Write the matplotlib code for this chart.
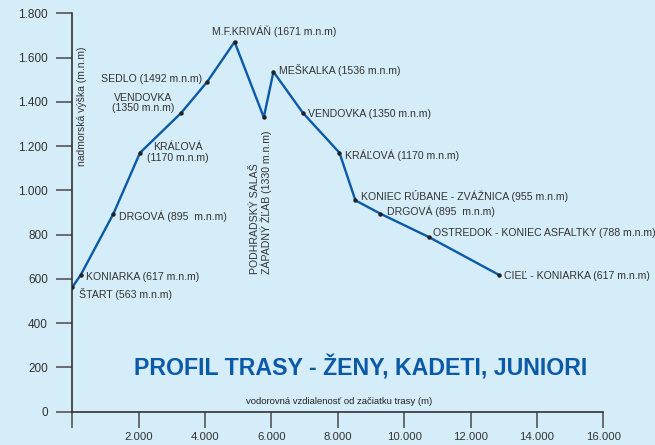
import matplotlib.pyplot as plt

plt.rcParams['font.family'] = ['Liberation Sans', 'DejaVu Sans']

# route profile: distance (m), altitude (m.n.m), label
dist = [0, 250, 1240, 2040, 3280, 4070, 4890, 5770, 6060, 6950, 8050, 8530, 9280, 10760, 12870]
alt = [563, 617, 895, 1170, 1350, 1492, 1671, 1330, 1536, 1350, 1170, 955, 895, 788, 617]
labels = [
    'ŠTART (563 m.n.m)',
    'KONIARKA (617 m.n.m)',
    'DRGOVÁ (895  m.n.m)',
    'KRÁĽOVÁ\n(1170 m.n.m)',
    'VENDOVKA\n(1350 m.n.m)',
    'SEDLO (1492 m.n.m)',
    'M.F.KRIVÁŇ (1671 m.n.m)',
    'PODHRADSKÝ SALAŠ\nZÁPADNÝ ŽĽAB (1330 m.n.m)',
    'MEŠKALKA (1536 m.n.m)',
    'VENDOVKA (1350 m.n.m)',
    'KRÁĽOVÁ (1170 m.n.m)',
    'KONIEC RÚBANE - ZVÁŽNICA (955 m.n.m)',
    'DRGOVÁ (895  m.n.m)',
    'OSTREDOK - KONIEC ASFALTKY (788 m.n.m)',
    'CIEĽ - KONIARKA (617 m.n.m)',
]
xticks = [0, 2000, 4000, 6000, 8000, 10000, 12000, 14000, 16000]
xticklabels = ['', '2.000', '4.000', '6.000', '8.000', '10.000', '12.000', '14.000', '16.000']
yticks = [0, 200, 400, 600, 800, 1000, 1200, 1400, 1600, 1800]
yticklabels = ['0', '200', '400', '600', '800', '1.000', '1.200', '1.400', '1.600', '1.800']

bg = '#d5ecf9'
blue = '#0b5aa8'

fig = plt.figure(figsize=(6.55, 4.45), dpi=100, facecolor=bg)
ax = fig.add_axes([0.1104, 0.0748, 0.8107, 0.8952])
ax.set_facecolor(bg)

ax.plot(dist, alt, color=blue, lw=1.7, zorder=2)
ax.plot(dist, alt, 'o', color='#222222', ms=2.2, zorder=3)

ax.set_xlim(0, 16000)
ax.set_ylim(0, 1800)
for s in ['top', 'right']:
    ax.spines[s].set_visible(False)
for s in ['left', 'bottom']:
    ax.spines[s].set_color('#333333')
    ax.spines[s].set_linewidth(1.2)

ax.set_xticks(xticks)
ax.set_xticklabels(xticklabels)
ax.set_yticks(yticks)
ax.set_yticklabels(yticklabels)
ax.tick_params(axis='both', direction='out', length=11.5, width=1.2, color='#555555',
               labelcolor='#333333')
ax.tick_params(axis='y', pad=6, labelsize=8.5)
ax.tick_params(axis='x', pad=3, labelsize=8.2)

# label offsets in pixels from each point: (dx, dy, ha, va)
offs = [
    (7, -7, 'left', 'center'),
    (5, -2, 'left', 'center'),
    (6, -3, 'left', 'center'),
    (38, 0, 'center', 'center'),
    (-38, 10, 'center', 'center'),
    (-5, 3, 'right', 'center'),
    (40, 11, 'center', 'center'),
    (-3, -13, 'center', 'top'),
    (6, 2, 'left', 'center'),
    (5, -1, 'left', 'center'),
    (6, -2, 'left', 'center'),
    (6, 4, 'left', 'center'),
    (7, 2, 'left', 'center'),
    (4, 4, 'left', 'center'),
    (5, -1, 'left', 'center'),
]
for x, y, t, (dx, dy, ha, va) in zip(dist, alt, labels, offs):
    rot = 90 if t.startswith('PODHRADSK') else 0
    ma = 'left' if rot else 'center'
    ax.annotate(t, (x, y), xytext=(dx, dy), textcoords='offset pixels',
                ha=ha, va=va, fontsize=7.6, color='#333333', rotation=rot,
                multialignment=ma, linespacing=1.1)

ax.text(0.018, 0.767, 'nadmorská výška (m.n.m)', transform=ax.transAxes, rotation=90,
        ha='center', va='center', fontsize=7.5, color='#333333')
fig.text(339 / 655, 1 - 402 / 445, 'vodorovná vzdialenosť od začiatku trasy (m)',
         ha='center', va='center', fontsize=6.8, color='#222222')
fig.text(361 / 655, 1 - 368 / 445, 'PROFIL TRASY - ŽENY, KADETI, JUNIORI',
         ha='center', va='center', fontsize=16.7, fontweight='bold', color=blue)

fig.savefig('out.png', dpi=100, facecolor=bg)
